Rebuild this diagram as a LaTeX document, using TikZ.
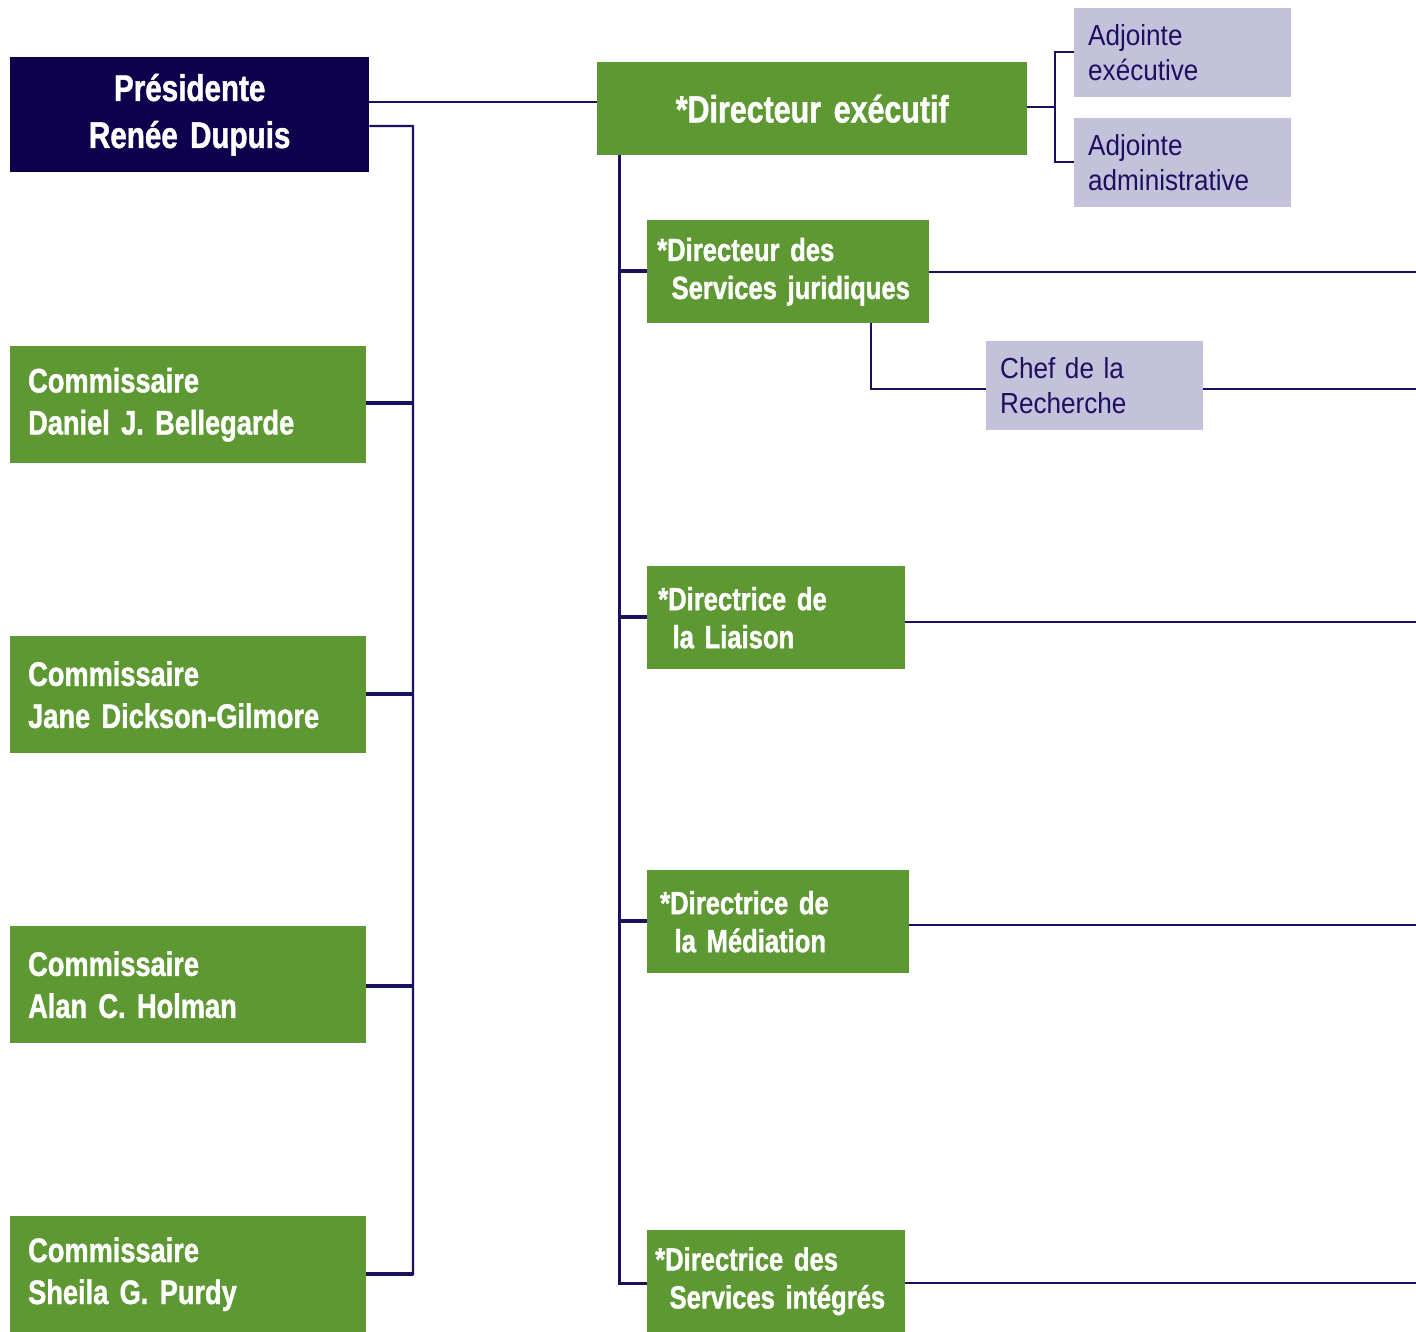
\documentclass[tikz,border=0pt]{standalone}
\usepackage{fontspec}
\setmainfont{Liberation Sans}
\newfontfamily\bcond[FakeStretch=0.8,FakeBold=1.2,WordSpace=0.7]{Liberation Sans Bold}
\newfontfamily\rcond[FakeStretch=0.9]{Liberation Sans}
\definecolor{navybox}{HTML}{0D004C}
\definecolor{greenbox}{HTML}{5E9833}
\definecolor{lavbox}{HTML}{C4C1DA}
\definecolor{linecol}{HTML}{1A1060}
\definecolor{lavtext}{HTML}{1C1060}
\tikzset{
  box/.style={rectangle, anchor=north west, inner ysep=0pt, align=left},
  presbox/.style={box, fill=navybox, text=white, align=center,
     font=\bcond\fontsize{37}{47}\selectfont},
  commbox/.style={box, fill=greenbox, text=white, inner xsep=18pt,
     font=\bcond\fontsize{34}{42}\selectfont},
  dirbox/.style={box, fill=greenbox, text=white,
     font=\bcond\fontsize{32}{38}\selectfont},
  lavbox/.style={box, fill=lavbox, text=lavtext, inner xsep=14pt,
     font=\rcond\fontsize{29}{35}\selectfont},
  conn/.style={draw=linecol, line width=2.2pt},
  tick/.style={draw=linecol, line width=4pt},
}
\begin{document}
\begin{tikzpicture}[x=1pt,y=-1pt]
\useasboundingbox (0,0) rectangle (1416,1332);

% left column
\node[presbox, minimum width=359pt, minimum height=115pt, text width=339pt, inner xsep=10pt] (pres) at (10,57) {Présidente\\Renée Dupuis};
\node[commbox, minimum width=356pt, minimum height=117pt, text width=320pt] (c1) at (10,346) {Commissaire\\Daniel J. Bellegarde};
\node[commbox, minimum width=356pt, minimum height=117pt, text width=320pt] (c2) at (10,636) {Commissaire\\Jane Dickson-Gilmore};
\node[commbox, minimum width=356pt, minimum height=117pt, text width=320pt] (c3) at (10,926) {Commissaire\\Alan C. Holman};
\node[commbox, minimum width=356pt, minimum height=116pt, text width=320pt] (c4) at (10,1216) {Commissaire\\Sheila G. Purdy};

% executive director
\node[box, fill=greenbox, text=white, align=center, minimum width=430pt, minimum height=93pt, text width=410pt, inner xsep=10pt,
  font=\bcond\fontsize{38}{40}\selectfont] (de) at (597,62) {*Directeur exécutif};
\node[lavbox, minimum width=217pt, minimum height=89pt, text width=189pt] (ae) at (1074,8) {Adjointe\\exécutive};
\node[lavbox, minimum width=217pt, minimum height=89pt, text width=189pt] (aa) at (1074,118) {Adjointe\\administrative};

% directors
\node[dirbox, minimum width=282pt, minimum height=103pt, text width=262pt, inner xsep=10pt] (dsj) at (647,220) {*Directeur des\\\hspace*{0.45em}Services juridiques};
\node[lavbox, minimum width=217pt, minimum height=89pt, text width=189pt] (chef) at (986,341) {Chef de la\\Recherche};
\node[dirbox, minimum width=258pt, minimum height=103pt, text width=236pt, inner xsep=11pt] (dl) at (647,566) {*Directrice de\\\hspace*{0.45em}la Liaison};
\node[dirbox, minimum width=258pt, minimum height=103pt, text width=236pt, inner xsep=13pt] (dm) at (647,870) {*Directrice de\\\hspace*{0.45em}la Médiation};
\node[dirbox, minimum width=258pt, minimum height=102pt, text width=242pt, inner xsep=8pt] (dsi) at (647,1230) {*Directrice des\\\hspace*{0.45em}Services intégrés};

% right-edge coordinates
\coordinate (r1) at (1416,272);
\coordinate (r2) at (1416,389);
\coordinate (r3) at (1416,622);
\coordinate (r4) at (1416,925);
\coordinate (r5) at (1416,1283);
\coordinate (pspine) at (413,126);
\coordinate (dspine) at (619,155);

% president connectors
\draw[conn] (pres.east |- 0,102) -- (de.west |- 0,102);
\draw[conn] (pres.east |- pspine) -- (pspine) -- (pspine |- c4.east) -- (c4.east |- 0,1274);
\draw[tick] (pspine |- 0,403) -- (c1.east |- 0,403);
\draw[tick] (pspine |- 0,694) -- (c2.east |- 0,694);
\draw[tick] (pspine |- 0,986) -- (c3.east |- 0,986);
\draw[tick] (pspine |- 0,1274) -- (c4.east |- 0,1274);

% executive director to assistants
\draw[conn, line width=1.5pt] (de.east |- 0,107) -- (1055,107);
\draw[conn, line width=1.5pt] (ae.west |- 0,52) -- (1055,52) -- (1055,162) -- (aa.west |- 0,162);

% executive director spine
\draw[conn, line width=3pt] (dspine |- de.south) -- (dspine |- 0,1283) -- (dsi.west |- 0,1283);
\draw[tick] (dspine |- 0,271) -- (dsj.west |- 0,271);
\draw[tick] (dspine |- 0,617) -- (dl.west |- 0,617);
\draw[tick] (dspine |- 0,921) -- (dm.west |- 0,921);

% connectors to the right edge
\draw[conn, line width=1.5pt] (dsj.east |- r1) -- (r1);
\draw[conn, line width=1.5pt] (871,323) -- (871,389) -- (chef.west |- r2);
\draw[conn, line width=1.5pt] (chef.east |- r2) -- (r2);
\draw[conn, line width=1.5pt] (dl.east |- r3) -- (r3);
\draw[conn, line width=1.5pt] (dm.east |- r4) -- (r4);
\draw[conn, line width=1.5pt] (dsi.east |- r5) -- (r5);
\end{tikzpicture}
\end{document}
